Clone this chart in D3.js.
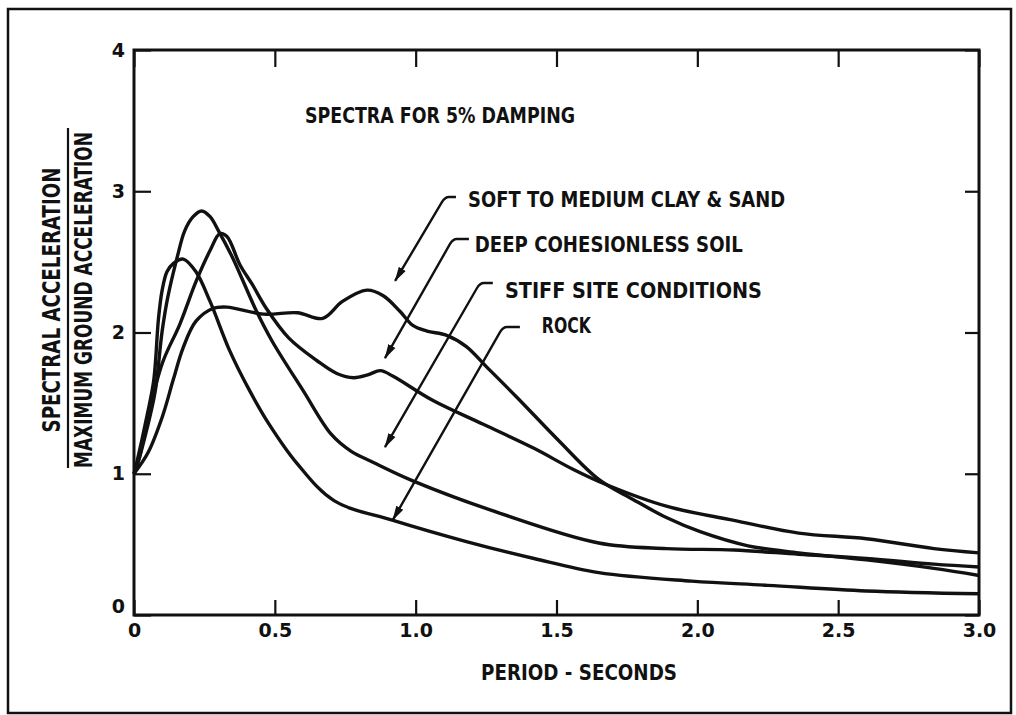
<!DOCTYPE html>
<html>
<head>
<meta charset="utf-8">
<script src="https://cdn.jsdelivr.net/npm/d3@7"></script>
<style>
  body { margin: 0; background: #fff; }
  text { font-family: "DejaVu Sans Condensed", "DejaVu Sans", sans-serif; font-weight: bold; fill: #111; }
</style>
</head>
<body>
<script>
// period (s), spectral accel / max ground accel
var rock = [[0,1],[0.01,1.08],[0.045,1.40],[0.07,1.66],[0.087,2.10],[0.10,2.30],[0.117,2.43],[0.14,2.49],
  [0.175,2.52],[0.22,2.43],[0.27,2.22],[0.34,1.87],[0.41,1.59],[0.48,1.35],[0.58,1.07],[0.71,0.81],
  [0.92,0.67],[1.18,0.52],[1.42,0.40],[1.65,0.30],[1.98,0.24],[2.25,0.21],[2.6,0.17],[3.0,0.15]];

var stiff = [[0,1],[0.02,1.12],[0.045,1.31],[0.075,1.58],[0.10,2.01],[0.12,2.25],[0.153,2.53],[0.18,2.72],
  [0.21,2.82],[0.24,2.86],[0.27,2.82],[0.30,2.72],[0.35,2.53],[0.435,2.15],[0.49,1.94],[0.60,1.59],
  [0.70,1.28],[0.77,1.16],[0.85,1.08],[0.99,0.95],[1.30,0.72],[1.65,0.51],[1.89,0.47],[2.13,0.46],
  [2.36,0.43],[2.6,0.40],[2.84,0.36],[3.0,0.34]];

var deep = [[0,1],[0.02,1.12],[0.045,1.36],[0.10,1.78],[0.163,2.06],[0.22,2.36],[0.27,2.58],[0.305,2.70],
  [0.33,2.68],[0.376,2.48],[0.42,2.34],[0.47,2.17],[0.55,1.96],[0.65,1.80],[0.72,1.71],[0.78,1.68],
  [0.83,1.70],[0.875,1.73],[0.92,1.69],[1.06,1.52],[1.24,1.35],[1.42,1.18],[1.56,1.03],[1.68,0.92],
  [1.89,0.77],[2.13,0.67],[2.36,0.58],[2.60,0.54],[2.84,0.47],[3.0,0.44]];

var soft = [[0,1],[0.05,1.15],[0.10,1.40],[0.14,1.67],[0.174,1.89],[0.22,2.08],[0.28,2.17],[0.33,2.18],
  [0.46,2.13],[0.58,2.14],[0.67,2.10],[0.74,2.22],[0.827,2.30],[0.885,2.26],[0.944,2.15],[0.99,2.05],
  [1.04,2.01],[1.11,1.98],[1.18,1.90],[1.25,1.76],[1.36,1.54],[1.51,1.23],[1.65,0.96],[1.77,0.82],
  [1.89,0.69],[2.01,0.59],[2.18,0.49],[2.36,0.44],[2.60,0.39],[2.84,0.33],[3.0,0.28]];

var xTicks = [0, 0.5, 1.0, 1.5, 2.0, 2.5, 3.0];
var yTicks = [0, 1, 2, 3, 4];

var labels = ["SOFT TO MEDIUM CLAY & SAND", "DEEP COHESIONLESS SOIL", "STIFF SITE CONDITIONS", "ROCK"];

// annotation layout, in data units: text start, hook, arrow tip
var notes = [
  {at: [1.186, 2.885], len: 317, hook: [1.104, 1.143, 2.959], tip: [0.927, 2.365]},
  {at: [1.21, 2.57],   len: 268, hook: [1.132, 1.189, 2.662], tip: [0.891, 1.819]},
  {at: [1.317, 2.244], len: 257, hook: [1.228, 1.274, 2.350], tip: [0.891, 1.189]},
  {at: [1.448, 1.996], len: 49,  hook: [1.310, 1.370, 2.039], tip: [0.919, 0.673]}
];

var width = 1016, height = 715;

var svg = d3.select("body").append("svg")
    .attr("width", width)
    .attr("height", height);

var x = d3.scaleLinear().domain([0, 3]).range([134, 979]);
var y = d3.scaleLinear().domain([0, 4]).range([615, 50]);

svg.append("defs").append("marker")
    .attr("id", "head")
    .attr("markerUnits", "userSpaceOnUse")
    .attr("viewBox", "0 -5 15 10")
    .attr("refX", 14).attr("refY", 0)
    .attr("markerWidth", 15).attr("markerHeight", 10)
    .attr("orient", "auto")
  .append("path")
    .attr("d", "M0,-4L15,0L0,4Z")
    .attr("fill", "#111");

// outer border
svg.append("rect")
    .attr("x", 8).attr("y", 9)
    .attr("width", 1003).attr("height", 704)
    .attr("fill", "none")
    .attr("stroke", "#111")
    .attr("stroke-width", 2.5);

// axes, ticks pointing inward
var fmt = function(d){ return d === 0 ? "0" : d.toFixed(1); };

var gx = svg.append("g")
    .attr("transform", "translate(0," + y(0) + ")")
    .call(d3.axisBottom(x).tickValues(xTicks).tickFormat(fmt).tickSizeInner(-15).tickSizeOuter(0).tickPadding(22));
svg.append("g")
    .attr("transform", "translate(0," + y(4) + ")")
    .call(d3.axisTop(x).tickValues(xTicks).tickFormat("").tickSizeInner(-17).tickSizeOuter(0));
var gy = svg.append("g")
    .attr("transform", "translate(" + x(0) + ",0)")
    .call(d3.axisLeft(y).tickValues(yTicks).tickFormat(d3.format("d")).tickSizeInner(-17).tickSizeOuter(0).tickPadding(9));
svg.append("g")
    .attr("transform", "translate(" + x(3) + ",0)")
    .call(d3.axisRight(y).tickValues(yTicks).tickFormat("").tickSizeInner(-14).tickSizeOuter(0));

svg.selectAll(".domain").remove();
svg.selectAll(".tick line").attr("stroke", "#111").attr("stroke-width", 2.2);
svg.selectAll(".tick text")
    .style("font-family", "'DejaVu Sans', sans-serif")
    .style("font-weight", "bold")
    .style("font-size", "19px")
    .attr("fill", "#111");
gx.selectAll(".tick text").attr("dy", "0");
gy.selectAll(".tick text").filter(function(d){ return d === 0; }).attr("dy", "-0.12em");

// frame
svg.append("rect")
    .attr("x", x(0)).attr("y", y(4))
    .attr("width", x(3) - x(0)).attr("height", y(0) - y(4))
    .attr("fill", "none")
    .attr("stroke", "#111")
    .attr("stroke-width", 3);

// spectra curves
var line = d3.line()
    .x(function(d){ return x(d[0]); })
    .y(function(d){ return y(d[1]); })
    .curve(d3.curveCatmullRom.alpha(0.5));

svg.selectAll(".curve")
    .data([rock, stiff, deep, soft])
  .enter().append("path")
    .attr("class", "curve")
    .attr("d", line)
    .attr("fill", "none")
    .attr("stroke", "#111")
    .attr("stroke-width", 3.4)
    .attr("stroke-linejoin", "round");

// labels with hooked arrows
var note = svg.selectAll(".note")
    .data(notes)
  .enter().append("g")
    .attr("class", "note");

note.append("text")
    .attr("x", function(d){ return x(d.at[0]); })
    .attr("y", function(d){ return y(d.at[1]); })
    .attr("textLength", function(d){ return d.len; })
    .attr("lengthAdjust", "spacingAndGlyphs")
    .style("font-size", "22px")
    .text(function(d, i){ return labels[i]; });

note.append("path")
    .attr("d", function(d){
      var hr = x(d.hook[1]), hl = x(d.hook[0]), hy = y(d.hook[2]);
      var tx = x(d.tip[0]), ty = y(d.tip[1]);
      var dx = tx - hl, dy = ty - hy, n = Math.sqrt(dx*dx + dy*dy);
      dx /= n; dy /= n;
      return "M" + hr + "," + hy + "L" + (hl + 4) + "," + hy +
        "Q" + hl + "," + hy + " " + (hl + dx*6) + "," + (hy + dy*6) +
        "L" + tx + "," + ty;
    })
    .attr("fill", "none")
    .attr("stroke", "#111")
    .attr("stroke-width", 2.4)
    .attr("marker-end", "url(#head)");

// caption
svg.append("text")
    .attr("x", 305).attr("y", 123)
    .attr("textLength", 270)
    .attr("lengthAdjust", "spacingAndGlyphs")
    .style("font-size", "22px")
    .text("SPECTRA FOR 5% DAMPING");

// axis titles
svg.append("text")
    .attr("x", 579).attr("y", 680)
    .attr("text-anchor", "middle")
    .attr("textLength", 196)
    .attr("lengthAdjust", "spacingAndGlyphs")
    .style("font-size", "22px")
    .text("PERIOD - SECONDS");

var yt = svg.append("g");
yt.append("text")
    .attr("transform", "translate(60,300) rotate(-90)")
    .attr("text-anchor", "middle")
    .attr("textLength", 265)
    .attr("lengthAdjust", "spacingAndGlyphs")
    .style("font-size", "25px")
    .text("SPECTRAL ACCELERATION");
yt.append("line")
    .attr("x1", 68).attr("x2", 68)
    .attr("y1", 128).attr("y2", 468)
    .attr("stroke", "#111")
    .attr("stroke-width", 2.2);
yt.append("text")
    .attr("transform", "translate(92,300) rotate(-90)")
    .attr("text-anchor", "middle")
    .attr("textLength", 336)
    .attr("lengthAdjust", "spacingAndGlyphs")
    .style("font-size", "25px")
    .text("MAXIMUM GROUND ACCELERATION");
</script>
</body>
</html>
